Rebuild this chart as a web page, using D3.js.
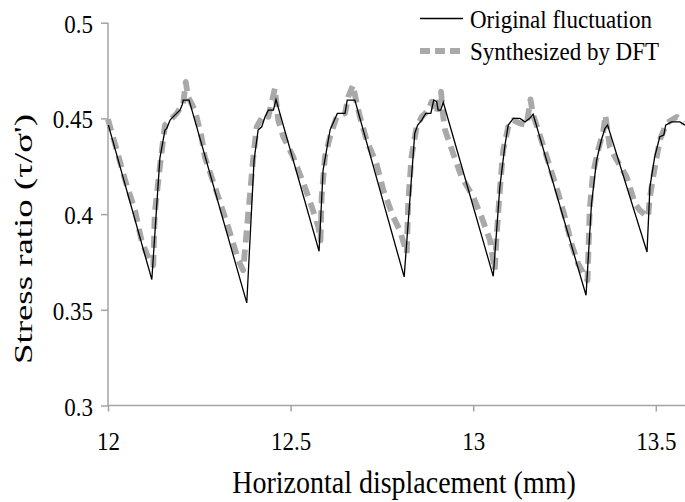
<!DOCTYPE html>
<html>
<head>
<meta charset="utf-8">
<script src="https://cdn.jsdelivr.net/npm/d3@7/dist/d3.min.js"></script>
<style>
  html, body { margin: 0; padding: 0; background: #fff; }
  svg { display: block; }
  text { font-family: "Liberation Serif", "Times New Roman", Times, serif; fill: #000; }
</style>
</head>
<body>
<svg id="chart" width="685" height="502"></svg>
<script>
// ---- Data ----
const xTicks = [12, 12.5, 13, 13.5];
const yTicks = [0.3, 0.35, 0.4, 0.45, 0.5];
const seriesNames = ["Original fluctuation", "Synthesized by DFT"];

const originalX = [12.001, 12.120, 12.142, 12.156, 12.161, 12.170, 12.183, 12.197, 12.203, 12.206, 12.222,
  12.380, 12.400, 12.411, 12.421, 12.430, 12.439, 12.453, 12.460,
  12.578, 12.589, 12.608, 12.628, 12.649, 12.655, 12.676,
  12.811, 12.840, 12.848, 12.859, 12.870, 12.884, 12.892, 12.900, 12.904, 12.911, 12.918,
  13.055, 13.073, 13.087, 13.096, 13.110, 13.128, 13.142, 13.155, 13.164,
  13.309, 13.324, 13.338, 13.351, 13.361, 13.368,
  13.476, 13.484, 13.497, 13.511, 13.522, 13.527, 13.543, 13.566, 13.580];
const originalY = [0.4465, 0.3658, 0.4291, 0.4439, 0.4448, 0.4491, 0.4517, 0.4543, 0.4570, 0.4596, 0.4596,
  0.3536, 0.4282, 0.4439, 0.4456, 0.4508, 0.4543, 0.4543, 0.4599,
  0.3806, 0.4230, 0.4439, 0.4526, 0.4526, 0.4596, 0.4596,
  0.3672, 0.4422, 0.4465, 0.4491, 0.4526, 0.4526, 0.4596, 0.4587, 0.4543, 0.4543, 0.4584,
  0.3675, 0.4142, 0.4360, 0.4465, 0.4500, 0.4500, 0.4482, 0.4500, 0.4522,
  0.3576, 0.4055, 0.4282, 0.4387, 0.4448, 0.4465,
  0.3802, 0.4142, 0.4299, 0.4404, 0.4413, 0.4465, 0.4482, 0.4482, 0.4465];

const dftX = [12.000, 12.024, 12.047, 12.074, 12.092, 12.115, 12.124, 12.128, 12.142, 12.156, 12.170, 12.188, 12.206, 12.213, 12.219,
  12.238, 12.256, 12.265, 12.302, 12.329, 12.357, 12.370, 12.384, 12.398, 12.407, 12.425, 12.439, 12.457, 12.466,
  12.480, 12.507, 12.539, 12.558, 12.576, 12.582, 12.585, 12.594, 12.608, 12.626, 12.649, 12.658, 12.671, 12.679,
  12.690, 12.708, 12.735, 12.754, 12.781, 12.799, 12.818, 12.822, 12.831, 12.845, 12.859, 12.877, 12.886, 12.900, 12.912, 12.918,
  12.923, 12.945, 12.968, 13.000, 13.023, 13.046, 13.059, 13.064, 13.073, 13.082, 13.096, 13.110, 13.128, 13.146, 13.157, 13.164,
  13.178, 13.210, 13.233, 13.251, 13.269, 13.287, 13.313, 13.319, 13.328, 13.342, 13.356, 13.362,
  13.374, 13.388, 13.420, 13.443, 13.456, 13.479, 13.484, 13.497, 13.511, 13.529, 13.557, 13.575];
const dftY = [0.4496, 0.4334, 0.4177, 0.4019, 0.3860, 0.3750, 0.3733, 0.4003, 0.4247, 0.4465, 0.4491, 0.4526, 0.4578, 0.4691, 0.4613,
  0.4543, 0.4404, 0.4299, 0.4090, 0.3933, 0.3759, 0.3707, 0.4003, 0.4299, 0.4456, 0.4517, 0.4508, 0.4657, 0.4491,
  0.4404, 0.4299, 0.4142, 0.4038, 0.3933, 0.3863, 0.4090, 0.4299, 0.4404, 0.4508, 0.4526, 0.4613, 0.4674, 0.4596,
  0.4508, 0.4387, 0.4265, 0.4125, 0.3985, 0.3916, 0.3796, 0.4055, 0.4299, 0.4456, 0.4508, 0.4543, 0.4587, 0.4526, 0.4639, 0.4508,
  0.4439, 0.4317, 0.4195, 0.4090, 0.3985, 0.3863, 0.3707, 0.3881, 0.4125, 0.4334, 0.4456, 0.4491, 0.4474, 0.4465, 0.4599, 0.4517,
  0.4439, 0.4247, 0.4108, 0.3985, 0.3846, 0.3742, 0.3654, 0.4020, 0.4212, 0.4334, 0.4430, 0.4517,
  0.4351, 0.4299, 0.4195, 0.4055, 0.4020, 0.3985, 0.4090, 0.4240, 0.4387, 0.4474, 0.4508, 0.4474];

// ---- Layout ----
const svg = d3.select("#chart");
const plotLeft = 108, plotRight = 685, plotTop = 22.7, plotBottom = 405.5;
const axisColor = "#a3a3a3";
const dftColor = "#a9a9a9";
const stretch = 1.12;

const x = d3.scaleLinear().domain([12, 13.58]).range([plotLeft, plotRight]);
const y = d3.scaleLinear().domain([0.3, 0.5]).range([plotBottom, plotTop]);

// Axes
const yAxis = d3.axisLeft(y).tickValues(yTicks).tickSize(7).tickFormat(d => String(d));
const gy = svg.append("g").attr("transform", `translate(${plotLeft},0)`).call(yAxis);
gy.attr("font-family", null);
gy.select(".domain").attr("stroke", axisColor).attr("stroke-width", 1.5).attr("d", `M0,${plotTop}V${plotBottom}`);
gy.selectAll(".tick line").attr("stroke", axisColor).attr("stroke-width", 1.5);
gy.selectAll(".tick text").attr("font-size", 23)
  .attr("x", 0).attr("dy", null)
  .attr("transform", `translate(-15,9.5) scale(1,${stretch})`).attr("fill", "#000");

const xAxis = d3.axisBottom(x).tickValues(xTicks).tickSize(6).tickFormat(d => String(d));
const gx = svg.append("g").attr("transform", `translate(0,${plotBottom})`).call(xAxis);
gx.attr("font-family", null);
gx.select(".domain").attr("stroke", axisColor).attr("stroke-width", 1.5).attr("d", `M${plotLeft},0H${plotRight}`);
gx.selectAll(".tick line").attr("stroke", axisColor).attr("stroke-width", 1.5);
gx.selectAll(".tick text").attr("font-size", 23)
  .attr("y", 0).attr("dy", null)
  .attr("transform", `translate(0,44.5) scale(1,${stretch})`).attr("fill", "#000");

// Lines
const line = d3.line().x(d => x(d[0])).y(d => y(d[1]));
const dftData = dftX.map((v, i) => [v, dftY[i]]);
const origData = originalX.map((v, i) => [v, originalY[i]]);

svg.append("path").datum(dftData).attr("d", line)
  .attr("fill", "none").attr("stroke", dftColor).attr("stroke-width", 5.8)
  .attr("stroke-dasharray", "12,7").attr("stroke-linejoin", "round");
svg.append("path").datum(origData).attr("d", line)
  .attr("fill", "none").attr("stroke", "#000").attr("stroke-width", 1.3)
  .attr("stroke-linejoin", "miter");

// Legend
const lg = svg.append("g");
lg.append("line").attr("x1", 420).attr("x2", 463).attr("y1", 18.5).attr("y2", 18.5)
  .attr("stroke", "#000").attr("stroke-width", 1.5);
lg.append("text").attr("transform", `translate(470,28) scale(1,1.05)`).attr("font-size", 23).text(seriesNames[0]);
lg.append("line").attr("x1", 420).attr("x2", 461).attr("y1", 51).attr("y2", 51)
  .attr("stroke", dftColor).attr("stroke-width", 5.8).attr("stroke-dasharray", "10,5");
lg.append("text").attr("transform", `translate(470,60) scale(1,1.05)`).attr("font-size", 23).text(seriesNames[1]);

// Axis titles
svg.append("text").attr("transform", `translate(404,493) scale(1,${stretch})`).attr("text-anchor", "middle")
  .attr("font-size", 28).text("Horizontal displacement (mm)");
svg.append("text").attr("transform", "translate(32,239) rotate(-90)")
  .attr("text-anchor", "middle").attr("font-size", 26)
  .attr("textLength", 250).attr("lengthAdjust", "spacingAndGlyphs")
  .text("Stress ratio (τ/σ')");
</script>
</body>
</html>
